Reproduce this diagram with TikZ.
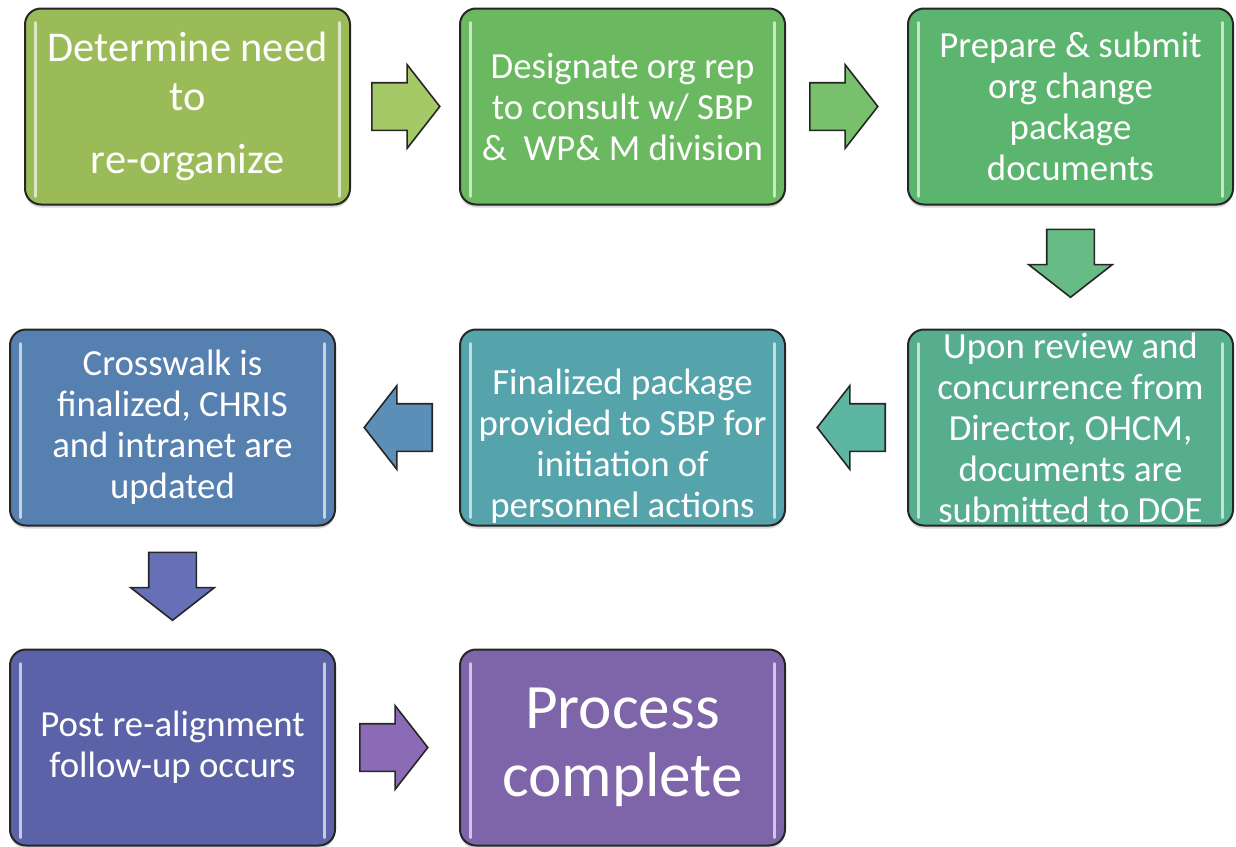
\documentclass[tikz,border=0pt]{standalone}
\usepackage{fontspec}
\setmainfont{Carlito}
\usetikzlibrary{positioning,calc,shapes.arrows,shadows}

\definecolor{stepA}{HTML}{9BBB59}
\definecolor{stepB}{HTML}{6AB85F}
\definecolor{stepC}{HTML}{5CB56F}
\definecolor{stepD}{HTML}{57AE8E}
\definecolor{stepE}{HTML}{55A3AB}
\definecolor{stepF}{HTML}{5680B0}
\definecolor{stepG}{HTML}{5C62A8}
\definecolor{stepH}{HTML}{7E64A8}
\definecolor{arrA}{HTML}{A6C968}
\definecolor{arrB}{HTML}{78C06B}
\definecolor{arrC}{HTML}{67BB84}
\definecolor{arrD}{HTML}{5DB6A2}
\definecolor{arrE}{HTML}{5B8FB8}
\definecolor{arrF}{HTML}{6670B6}
\definecolor{arrG}{HTML}{8B6BB6}

\tikzset{
  stepbox/.style={draw=black!85, line width=1pt, rounded corners=8pt,
    minimum width=162.5pt, minimum height=98pt, inner sep=0pt,
    drop shadow={shadow xshift=0pt, shadow yshift=-1.5pt, opacity=.3}},
  steptext/.style={text=white, align=center, inner sep=0pt,
    font=\fontsize{18.4}{20.5}\selectfont},
  blockarrow/.style={single arrow, draw=black!85, line width=.8pt,
    minimum height=34pt, inner sep=11.5pt, anchor=tail,
    single arrow head extend=9pt, single arrow tip angle=104},
  shine/.style={white, opacity=.65, line width=1.5pt, line cap=round}
}

\begin{document}
\begin{tikzpicture}[x=0.5pt,y=-0.5pt,
        node distance=2cm,on grid]
  \useasboundingbox (0,0) rectangle (1236,846);

  % the eight steps
  \node[stepbox,fill=stepA] (b1) at (187.5,106.5) {};
  \node[stepbox,fill=stepB] (b2) [right=217.5pt of b1] {};
  \node[stepbox,fill=stepC] (b3) [right=224pt of b2] {};
  \node[stepbox,fill=stepD] (b6) [below=160.5pt of b3] {};
  \node[stepbox,fill=stepE] (b5) [left=224pt of b6] {};
  \node[stepbox,fill=stepF] (b4) [left=225pt of b5] {};
  \node[stepbox,fill=stepG] (b7) [below=160pt of b4] {};
  \node[stepbox,fill=stepH] (b8) [right=225pt of b7] {};

  \foreach \b in {b1,b2,b3,b4,b5,b6,b7,b8} {
    \draw[shine] ($(\b.north west)+(11,15)$) -- ($(\b.south west)+(11,-9)$);
    \draw[shine] ($(\b.north east)+(-12,15)$) -- ($(\b.south east)+(-12,-9)$);
  }

  \node[steptext,font=\fontsize{21.2}{24.5}\selectfont] (t1) at (b1)
    {Determine need\\to\\[7pt]re-organize};
  \node[steptext] (t2) at (b2) {Designate org rep\\to consult w/ SBP\\\&~ WP\& M division};
  \node[steptext] (t3) at (b3) {Prepare \& submit\\org change\\package\\documents};
  \node[steptext] (t6) at (b6)
    {Upon review and\\concurrence from\\Director, OHCM,\\documents are\\submitted to DOE};
  \node[steptext] (t5) at ($(b5)+(0,19)$)
    {Finalized package\\provided to SBP for\\initiation of\\personnel actions};
  \node[steptext] (t4) at (b4) {Crosswalk is\\finalized, CHRIS\\and intranet are\\updated};
  \node[steptext] (t7) at (b7) {Post re-alignment\\follow-up occurs};
  \node[steptext,font=\fontsize{31.6}{34}\selectfont] (t8) at (b8) {Process\\complete};

  % block arrows between the steps
  \node[blockarrow,fill=arrA] (a12) at ($(b1.east)+(20,0)$) {};
  \node[blockarrow,fill=arrB] (a23) at ($(b2.east)+(23,0)$) {};
  \node[blockarrow,fill=arrC,shape border rotate=270] (a36) at ($(b3.south)+(0,23)$) {};
  \node[blockarrow,fill=arrD,shape border rotate=180] (a65) at ($(b6.west)+(-21,0)$) {};
  \node[blockarrow,fill=arrE,shape border rotate=180] (a54) at ($(b5.west)+(-26,0)$) {};
  \node[blockarrow,fill=arrF,shape border rotate=270] (a47) at ($(b4.south)+(0,25)$) {};
  \node[blockarrow,fill=arrG] (a78) at ($(b7.east)+(23,0)$) {};
\end{tikzpicture}
\end{document}
